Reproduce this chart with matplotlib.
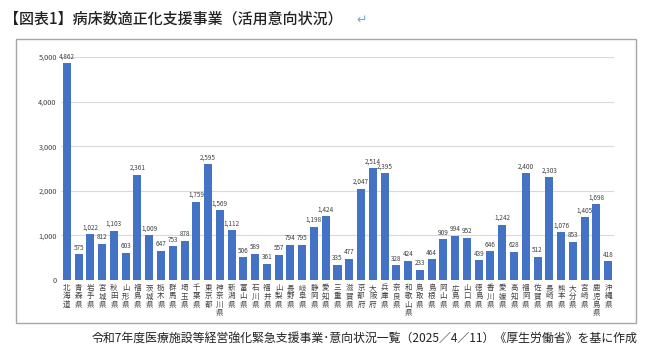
import matplotlib.pyplot as plt
from matplotlib.patches import Rectangle

plt.rcParams['font.family'] = ['Noto Sans CJK JP', 'DejaVu Sans']

# prefectures and number of hospitals planning to use the subsidy
prefs = ["北海道", "青森県", "岩手県", "宮城県", "秋田県", "山形県", "福島県", "茨城県",
         "栃木県", "群馬県", "埼玉県", "千葉県", "東京都", "神奈川県", "新潟県", "富山県",
         "石川県", "福井県", "山梨県", "長野県", "岐阜県", "静岡県", "愛知県", "三重県",
         "滋賀県", "京都府", "大阪府", "兵庫県", "奈良県", "和歌山県", "鳥取県", "島根県",
         "岡山県", "広島県", "山口県", "徳島県", "香川県", "愛媛県", "高知県", "福岡県",
         "佐賀県", "長崎県", "熊本県", "大分県", "宮崎県", "鹿児島県", "沖縄県"]
values = [4862, 575, 1022, 812, 1103, 603, 2361, 1009,
          647, 753, 878, 1759, 2595, 1569, 1112, 506,
          589, 361, 557, 794, 795, 1198, 1424, 335,
          477, 2047, 2514, 2395, 328, 424, 233, 464,
          909, 994, 952, 439, 646, 1242, 628, 2400,
          512, 2303, 1076, 853, 1405, 1698, 418]
yticks = [0, 1000, 2000, 3000, 4000, 5000]

W, H = 650, 363
fig = plt.figure(figsize=(6.5, 3.63), dpi=100)

# outer chart frame
fig.patches.append(Rectangle((16 / W, 1 - 323 / H), (636 - 16) / W, (323 - 39) / H,
                             transform=fig.transFigure, fill=False,
                             edgecolor="#a6a6a6", linewidth=1.0))

ax = fig.add_axes([61 / W, 1 - 280 / H, (614 - 61) / W, (280 - 57) / H])
x = range(len(prefs))
ax.bar(x, values, width=0.68, color="#4472C4", zorder=2)
for i, v in enumerate(values):
    ax.text(i, v + 60, f"{v:,}", ha="center", va="bottom", fontsize=4.6, color="#404040")

ax.set_xlim(-0.5, len(prefs) - 0.5)
ax.set_ylim(0, 5000)
ax.set_yticks(yticks)
ax.set_yticklabels([f"{t:,}" for t in yticks], fontsize=5.3, color="#404040")
ax.yaxis.grid(True, color="#d9d9d9", linewidth=0.8, zorder=0)
ax.set_xticks(list(x))
ax.set_xticklabels(["\n".join(p) for p in prefs], fontsize=5.4, color="#404040",
                   va="top", linespacing=1.05)
ax.tick_params(axis="both", length=0, pad=3)
for s in ax.spines.values():
    s.set_visible(False)

fig.text(4 / W, 1 - 19 / H, "【図表1】病床数適正化支援事業（活用意向状況）",
         fontsize=10.8, fontweight="medium", color="#222222", va="center")
fig.text(356 / W, 1 - 20 / H, "↵", fontsize=9, color="#6fa8dc", va="center",
         family=["DejaVu Sans"])
fig.text(637 / W, 1 - 338 / H,
         "令和7年度医療施設等経営強化緊急支援事業･意向状況一覧（2025／4／11）《厚生労働省》を基に作成",
         fontsize=8.6, color="#222222", ha="right", va="center")

fig.savefig("out.png", dpi=100)
